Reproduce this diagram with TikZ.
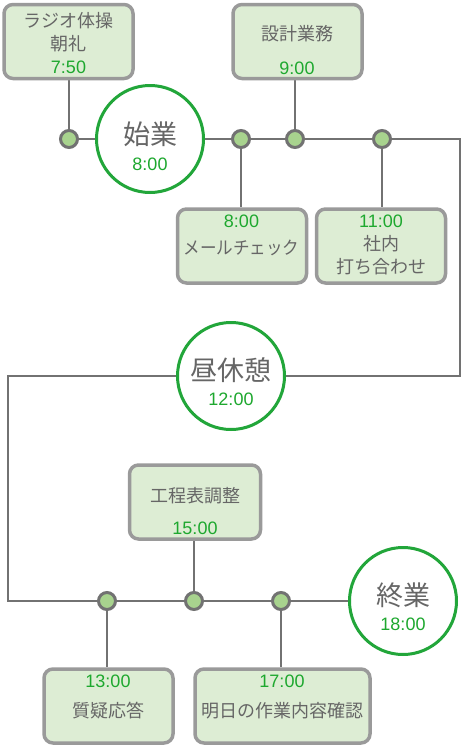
\documentclass[tikz,border=0pt]{standalone}
\usepackage{fontspec}
\setmainfont{Noto Sans CJK JP}
\newfontfamily\digitfont{Liberation Sans}
\usetikzlibrary{backgrounds}
\definecolor{boxfill}{HTML}{DDEDD4}
\definecolor{boxline}{HTML}{9A9A9A}
\definecolor{wirec}{HTML}{727272}
\definecolor{dotfill}{HTML}{A8D38E}
\definecolor{ringgreen}{HTML}{22A63A}
\definecolor{timegreen}{HTML}{1EA82F}
\definecolor{txtgray}{HTML}{666666}
\newcommand{\tm}[1]{\textcolor{timegreen}{\digitfont #1}}
\tikzset{
  box/.style={draw=boxline, line width=3.5pt, fill=boxfill, rounded corners=9pt,
    minimum width=#1, minimum height=74pt, inner sep=0pt},
  box/.default=129pt,
  txt/.style={text=txtgray, font=\fontsize{18}{23}\selectfont, align=center, inner sep=0pt},
  title/.style={text=txtgray, font=\fontsize{27}{30}\selectfont, inner sep=0pt},
  clock/.style={text=timegreen, font=\fontsize{18}{20}\selectfont\digitfont, inner sep=0pt},
  ring/.style={circle, draw=ringgreen, line width=3pt, fill=white, minimum size=107pt, inner sep=0pt},
  dot/.style={circle, draw=wirec, line width=3pt, fill=dotfill, minimum size=17pt, inner sep=0pt},
  wire/.style={draw=wirec, line width=2.6pt},
}
\begin{document}
\begin{tikzpicture}[x=1pt,y=1pt]
\useasboundingbox (0,0) rectangle (463,-747);
% boxes
\node[box] (radio) at (68.5,-41.5) {};
\node[box] (sekkei) at (297.5,-41.5) {};
\node[box] (mail) at (242,-246) {};
\node[box] (shanai) at (381,-246) {};
\node[box=131pt] (koutei) at (195,-502) {};
\node[box] (shitsugi) at (108.5,-706) {};
\node[box=175pt] (asu) at (282.5,-706) {};
\node[txt] (radioT) at (68.5,-43) {ラジオ体操\\朝礼\\\tm{7:50}};
\node[txt] (sekkeiT) at (297,-50) {設計業務\\[11pt]\tm{9:00}};
\node[txt] (mailT) at (241.5,-235.5) {\tm{8:00}\\[4pt]\scalebox{0.92}[1]{メールチェック}};
\node[txt] (shanaiT) at (381,-245) {\tm{11:00}\\社内\\打ち合わせ};
\node[txt] (kouteiT) at (195,-511) {工程表調整\\[9pt]\tm{15:00}};
\node[txt] (shitsugiT) at (108,-697) {\tm{13:00}\\[7pt]質疑応答};
\node[txt] (asuT) at (282,-697) {\tm{17:00}\\[7pt]明日の作業内容確認};
% milestones
\node[ring] (shigyo) at (150,-139) {};
\node[ring] (hiru) at (231,-376) {};
\node[ring] (shugyo) at (403,-601) {};
\node[title] (shigyoT) at ([yshift=5pt]shigyo.center) {始業};
\node[clock] (shigyoC) at ([yshift=-25pt]shigyo.center) {8:00};
\node[title] (hiruT) at ([yshift=6pt]hiru.center) {昼休憩};
\node[clock] (hiruC) at ([yshift=-23pt]hiru.center) {12:00};
\node[title] (shugyoT) at ([yshift=6pt]shugyo.center) {終業};
\node[clock] (shugyoC) at ([yshift=-23pt]shugyo.center) {18:00};
% dots
\node[dot] (d1) at (69,-139) {};
\node[dot] (d2) at (241,-139) {};
\node[dot] (d3) at (295,-139) {};
\node[dot] (d4) at (382,-139) {};
\node[dot] (d5) at (107,-601) {};
\node[dot] (d6) at (194,-601) {};
\node[dot] (d7) at (281,-601) {};
\coordinate (c1) at (460,-139);
\coordinate (c2) at (460,-376);
\coordinate (c3) at (8,-376);
\coordinate (c4) at (8,-601);
% lines
\begin{scope}[on background layer]
\draw[wire] (d1.center) -- (shigyo.center) -- (d2.center) -- (d3.center) -- (d4.center)
  -- (c1) -- (c2) -- (hiru.center) -- (c3) -- (c4) -- (d5.center) -- (d6.center)
  -- (d7.center) -- (shugyo.center);
\draw[wire] (d1) -- (d1 |- radio.south);
\draw[wire] (d3) -- (d3 |- sekkei.south);
\draw[wire] (d2) -- (d2 |- mail.north);
\draw[wire] (d4) -- (d4 |- shanai.north);
\draw[wire] (d6) -- (d6 |- koutei.south);
\draw[wire] (d5) -- (d5 |- shitsugi.north);
\draw[wire] (d7) -- (d7 |- asu.north);
\end{scope}
\end{tikzpicture}
\end{document}
